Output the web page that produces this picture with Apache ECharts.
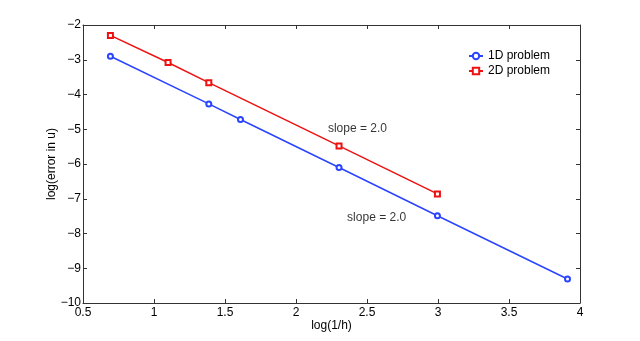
<!DOCTYPE html>
<html><head><meta charset="utf-8">
<script src="https://cdn.jsdelivr.net/npm/echarts@6/dist/echarts.min.js"></script>
<style>html,body{margin:0;padding:0;background:#fff}#c{width:640px;height:341px}</style>
</head><body><div id="c"></div>
<script>
const x1D = [0.693, 1.386, 1.609, 2.303, 2.996, 3.912];
const y1D = [-2.90, -4.27, -4.72, -6.10, -7.49, -9.31];
const x2D = [0.693, 1.099, 1.386, 2.303, 2.996];
const y2D = [-2.30, -3.08, -3.66, -5.48, -6.86];
const annoText = ['slope = 2.0', 'slope = 2.0'];
const annoX = [2.225, 2.36];
const annoY = [-4.98, -7.55];
const seriesNames = ['1D problem', '2D problem'];
const xLabel = 'log(1/h)';
const yLabel = 'log(error in u)';

const font = 'Liberation Sans, Arial, Helvetica, sans-serif';
const axisColor = '#333';
const blue = '#2a44ff', red = '#ee1111';
const zip = (a, b) => a.map((v, i) => [v, b[i]]);
const minus = v => String(v).replace('-', '\u2212');

const chart = echarts.init(document.getElementById('c'), null, {renderer: 'canvas'});
const baseAxis = {
  axisLine: {show: true, onZero: false, lineStyle: {color: axisColor, width: 1}},
  axisTick: {show: true, inside: true, length: 4, lineStyle: {color: axisColor}},
  splitLine: {show: false},
};
chart.setOption({
  animation: false,
  grid: {left: 83, right: 60, top: 25, bottom: 38},
  legend: {
    data: seriesNames, orient: 'vertical', left: 466, top: 48, padding: 2,
    itemWidth: 14, itemHeight: 8, itemGap: 3,
    textStyle: {fontFamily: font, fontSize: 12, color: '#000'}
  },
  xAxis: [
    Object.assign({}, baseAxis, {type: 'value', min: 0.5, max: 4, interval: 0.5, position: 'bottom',
      name: xLabel, nameLocation: 'middle', nameGap: 17, nameMoveOverlap: false,
      nameTextStyle: {fontFamily: font, fontSize: 12, color: '#000'},
      axisLabel: {fontFamily: font, fontSize: 12, color: '#000', margin: 4, formatter: v => minus(v)}}),
    Object.assign({}, baseAxis, {type: 'value', min: 0.5, max: 4, interval: 0.5, position: 'top',
      axisLabel: {show: false}})
  ],
  yAxis: [
    Object.assign({}, baseAxis, {type: 'value', min: -10, max: -2, interval: 1, position: 'left',
      name: yLabel, nameLocation: 'middle', nameGap: 25, nameMoveOverlap: false,
      nameTextStyle: {fontFamily: font, fontSize: 12, color: '#000'},
      axisLabel: {fontFamily: font, fontSize: 12, color: '#000', margin: 2, formatter: v => minus(v)}}),
    Object.assign({}, baseAxis, {type: 'value', min: -10, max: -2, interval: 1, position: 'right',
      axisLabel: {show: false}})
  ],
  series: [
    {name: seriesNames[0], type: 'line', data: zip(x1D, y1D), color: blue,
     symbol: 'emptyCircle', symbolSize: 5, lineStyle: {width: 1.5, color: blue},
     itemStyle: {color: blue, borderWidth: 1.5}},
    {name: seriesNames[1], type: 'line', data: zip(x2D, y2D), color: red,
     symbol: 'emptyRect', symbolSize: 5, lineStyle: {width: 1.5, color: red},
     itemStyle: {color: red, borderWidth: 1.5}},
    {name: 'anno', type: 'scatter', symbolSize: 0, silent: true,
     data: annoText.map((t, i) => ({value: [annoX[i], annoY[i]], name: t})),
     label: {show: true, position: 'inside', formatter: p => p.name,
       fontFamily: font, fontSize: 12, color: '#000', align: 'left', verticalAlign: 'middle'}}
  ]
});
</script></body></html>
